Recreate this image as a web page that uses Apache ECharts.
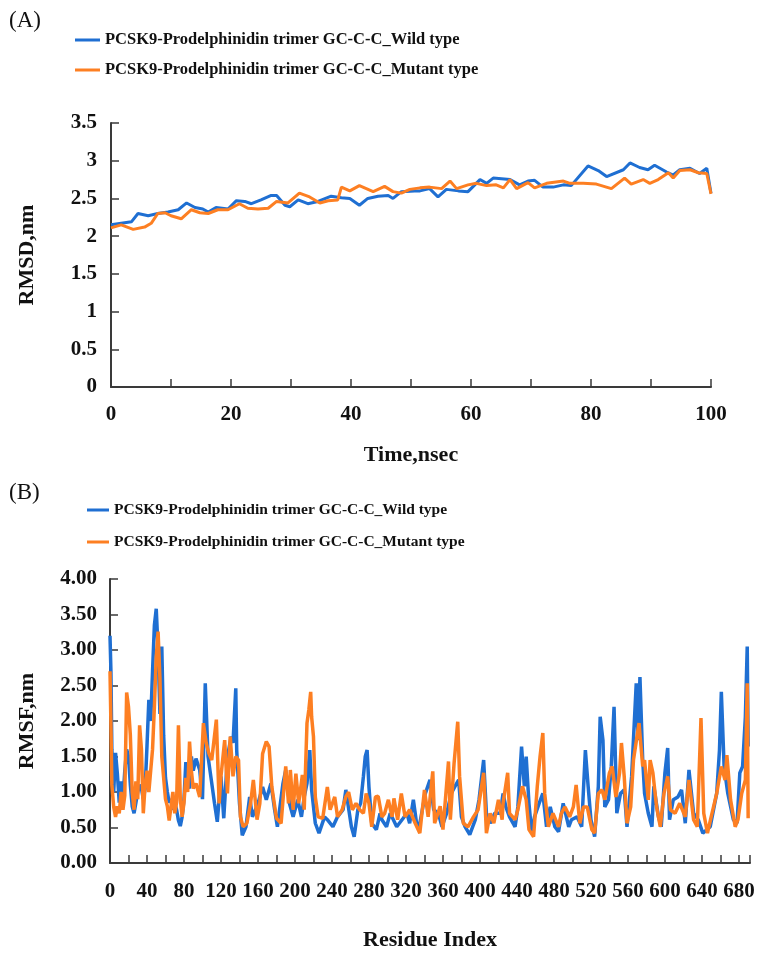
<!DOCTYPE html>
<html>
<head>
<meta charset="utf-8">
<script src="https://cdn.jsdelivr.net/npm/echarts@6/dist/echarts.min.js"></script>
<style>html,body{margin:0;padding:0;background:#fff}#c{width:762px;height:953px}</style>
</head>
<body>
<div id="c"></div>
<script>
// ---- Data ----
const seriesNames = ['PCSK9-Prodelphinidin trimer GC-C-C_Wild type', 'PCSK9-Prodelphinidin trimer GC-C-C_Mutant type'];

// (A) RMSD vs time (ns)
const rmsdWildTime = [0,1.7,3.4,4.5,6.2,7.8,9.5,11.2,12.6,14,15.3,16.2,17.5,19.5,20.9,22.3,23.4,25,26.7,27.6,29,29.8,31.2,32.8,34.5,36.7,38.4,39.8,41.4,42.8,44.5,46.2,47,48.4,50.6,51.5,53.1,54.5,55.9,57.9,59.5,61.5,62.6,63.7,66.5,68.1,69.5,70.6,72,73.7,75.4,76.7,79.5,81.2,82.6,85.4,86.5,88.1,89.5,90.6,92.6,93.7,94.8,96.5,98.1,99.3,100];
const rmsdWild     = [2.15,2.17,2.19,2.30,2.27,2.30,2.32,2.35,2.44,2.38,2.36,2.32,2.38,2.36,2.47,2.46,2.43,2.48,2.54,2.54,2.41,2.39,2.48,2.43,2.46,2.53,2.51,2.50,2.41,2.50,2.53,2.54,2.50,2.59,2.60,2.60,2.63,2.52,2.62,2.60,2.59,2.75,2.70,2.77,2.75,2.68,2.73,2.74,2.65,2.65,2.68,2.67,2.93,2.87,2.79,2.88,2.97,2.91,2.88,2.94,2.85,2.81,2.88,2.90,2.83,2.90,2.57];
const rmsdMutTime  = [0,1.7,3.7,5.6,6.7,7.8,9,10,11.7,13.4,14.8,16.2,17.8,19.5,21.4,22.8,24.5,26.2,27.6,29.5,31.4,33.1,34.8,36.2,37.8,38.4,39.8,41.4,43.7,45.6,47,48.4,49.8,51.5,53.1,55.1,56.5,57.6,59.5,60.9,62.6,64.2,65.4,66.5,67.6,69.5,70.6,72.6,75.4,76.5,78.7,80.9,83.4,85.6,86.7,88.7,89.8,91.2,92.9,93.7,94.8,96.5,97.9,99.3,100];
const rmsdMut      = [2.11,2.15,2.09,2.12,2.17,2.30,2.31,2.27,2.23,2.35,2.31,2.30,2.35,2.35,2.43,2.37,2.36,2.37,2.46,2.44,2.57,2.52,2.44,2.47,2.48,2.65,2.60,2.67,2.59,2.66,2.59,2.57,2.62,2.64,2.65,2.63,2.73,2.63,2.68,2.70,2.67,2.68,2.64,2.75,2.63,2.71,2.64,2.70,2.73,2.70,2.70,2.69,2.63,2.77,2.69,2.75,2.70,2.75,2.84,2.77,2.87,2.88,2.84,2.83,2.56];
const rmsdTicks = [0,20,40,60,80,100];

// (B) RMSF vs residue index
const rmsfWildRes = [0,1,2,4,6,8,10,12,14,16,18,20,22,24,26,28,30,32,34,36,38,40,42,44,46,48,50,52,54,56,58,60,62,64,66,68,70,72,74,76,78,80,82,84,86,88,90,93,97,100,103,106,109,113,116,120,123,127,131,133,136,137,140,143,147,151,154,160,165,169,174,178,181,187,190,194,198,203,207,210,213,216,218,222,226,232,235,241,246,252,255,261,264,268,271,274,276,278,280,283,288,292,294,299,303,310,317,321,324,328,332,335,341,346,350,355,359,364,369,373,377,380,384,389,395,399,404,407,411,416,422,425,428,432,438,441,445,448,450,453,456,459,464,468,472,476,481,485,490,496,499,505,510,514,517,520,524,528,530,533,535,539,542,545,548,552,556,559,564,569,571,573,576,578,582,586,588,593,596,600,603,605,609,614,618,622,626,631,636,641,649,656,659,661,664,668,674,678,681,684,687,689,690];
const rmsfWild    = [3.20,2.70,1.60,1.00,1.55,1.25,0.85,1.15,0.90,1.30,1.60,1.50,1.10,0.80,0.70,0.85,1.00,1.10,1.05,0.90,1.05,1.65,2.30,2.00,2.70,3.35,3.58,3.00,2.10,3.05,1.80,1.20,1.00,0.85,0.90,0.75,0.85,0.75,0.60,0.52,0.65,0.90,1.42,1.10,1.05,1.50,1.30,1.47,1.31,0.90,2.53,1.50,1.22,0.84,0.58,1.22,0.63,1.50,1.78,1.69,2.46,1.59,0.84,0.39,0.51,0.93,0.65,0.84,1.07,0.89,1.12,0.75,0.51,1.12,1.31,0.84,0.65,0.89,0.65,0.93,1.12,1.59,1.03,0.56,0.42,0.65,0.61,0.51,0.65,0.75,1.03,0.51,0.37,0.75,0.84,1.22,1.50,1.59,1.07,0.56,0.47,0.70,0.61,0.51,0.70,0.51,0.63,0.70,0.56,0.89,0.51,0.56,0.98,1.17,0.75,0.70,0.51,0.70,0.98,1.08,1.17,0.65,0.51,0.40,0.61,0.89,1.45,0.70,0.56,0.70,0.70,0.98,0.79,0.65,0.51,0.79,1.64,1.08,1.50,0.84,0.42,0.65,0.84,0.98,0.51,0.79,0.51,0.44,0.84,0.51,0.61,0.65,0.51,1.59,1.08,0.61,0.37,1.08,2.06,1.73,0.79,0.89,1.36,2.20,0.70,0.98,1.03,0.51,1.22,2.53,1.73,2.62,1.45,0.98,0.70,0.51,1.08,0.65,0.51,1.27,1.62,0.61,0.89,0.93,1.03,0.56,1.31,0.70,0.61,0.42,0.51,0.98,1.59,2.41,1.36,0.98,0.61,0.56,1.27,1.36,2.06,3.05,1.64];
const rmsfMutRes  = [0,1,2,4,6,8,10,12,14,16,18,20,22,24,26,28,30,32,34,36,38,40,42,44,46,48,50,52,54,56,58,60,62,64,66,68,70,72,74,76,78,80,82,84,86,88,90,93,97,101,104,107,110,115,118,120,124,127,130,133,136,139,141,144,148,152,155,159,162,165,169,172,175,180,185,190,193,195,198,201,204,208,210,213,215,217,218,220,222,225,230,235,238,243,246,251,255,258,262,266,270,274,277,280,283,287,290,294,297,301,305,307,311,315,319,324,330,335,340,344,349,351,357,360,366,368,372,376,378,382,387,393,398,404,407,411,415,420,424,425,430,432,438,441,446,450,453,458,462,465,468,470,474,479,485,488,492,497,501,504,508,512,516,521,524,528,532,535,540,543,547,551,553,556,559,563,566,569,572,576,578,582,584,587,591,595,599,603,606,611,616,622,626,631,635,639,642,646,650,656,661,665,667,671,676,679,683,687,689,690];
const rmsfMut     = [2.70,1.95,1.10,0.79,0.65,0.80,0.70,1.00,0.75,0.95,2.40,2.20,1.80,1.00,0.75,1.15,0.90,1.94,1.60,0.70,1.10,1.30,1.00,1.30,1.60,2.20,2.90,3.26,2.60,1.50,1.20,0.90,0.80,0.60,0.80,1.00,0.70,0.85,1.94,0.90,0.65,0.85,1.20,1.00,1.71,1.30,1.05,1.12,0.93,1.97,1.69,1.54,1.45,2.02,0.84,1.22,1.73,0.98,1.78,1.22,1.50,1.45,0.65,0.51,0.56,0.84,1.17,0.61,0.84,1.54,1.71,1.64,1.07,0.63,0.56,1.36,0.84,1.31,0.75,1.26,0.84,1.24,0.75,1.97,2.16,2.41,2.06,1.78,0.93,0.65,0.63,1.07,0.75,0.93,0.65,0.75,0.93,1.00,0.75,0.84,0.75,0.70,0.98,0.84,0.51,0.93,0.94,0.65,0.70,0.89,0.65,0.91,0.61,0.98,0.65,0.75,0.56,0.42,1.03,0.65,1.29,0.56,0.80,0.47,1.43,0.61,1.40,1.99,1.22,0.56,0.51,0.65,0.75,1.27,0.42,0.70,0.56,0.89,0.61,0.84,1.27,0.70,0.61,0.75,1.08,0.89,0.47,0.37,1.08,1.50,1.83,0.98,0.51,0.70,0.51,0.70,0.79,0.65,0.79,1.10,0.56,0.79,0.79,0.47,0.42,0.98,1.03,0.89,1.27,1.36,0.93,1.27,1.69,1.22,0.56,0.79,1.45,1.71,1.97,1.36,1.45,0.89,1.45,1.27,0.79,0.51,0.98,1.22,0.75,0.70,0.84,0.65,1.17,0.61,0.51,2.04,0.70,0.42,0.65,0.98,1.36,1.17,1.52,0.89,0.51,0.61,0.98,1.17,2.53,0.63];

// ---- Styling ----
const FONT = 'Liberation Serif, Times New Roman, serif';
const BLUE = '#1f6fd2';
const ORANGE = '#fd7f22';
const AXIS = '#3a3a3a';

function pairs(xs, ys) { return xs.map((x, i) => [x, ys[i]]); }

function axisCommon() {
  return {
    axisLine: { show: true, onZero: false, lineStyle: { color: AXIS, width: 2 } },
    axisTick: { show: true, inside: true, length: 8, lineStyle: { color: AXIS, width: 1.5 } },
    splitLine: { show: false },
    axisLabel: { color: '#111', fontFamily: FONT, fontWeight: 'bold', fontSize: 21 },
    nameTextStyle: { color: '#111', fontFamily: FONT, fontWeight: 'bold', fontSize: 22 }
  };
}

const chart = echarts.init(document.getElementById('c'), null, { renderer: 'canvas' });

const option = {
  backgroundColor: '#fff',
  animation: false,
  title: [
    { text: '(A)', left: 4, top: 4, textStyle: { fontFamily: FONT, fontWeight: 'normal', fontSize: 23, color: '#111' } },
    { text: '(B)', left: 4, top: 476, textStyle: { fontFamily: FONT, fontWeight: 'normal', fontSize: 23, color: '#111' } }
  ],
  legend: [
    {
      left: 75, top: 31, padding: 0, orient: 'vertical', icon: 'rect', itemWidth: 25, itemHeight: 3, itemGap: 12,
      data: seriesNames,
      textStyle: { fontFamily: FONT, fontWeight: 'bold', fontSize: 16.5, lineHeight: 18, color: '#111' }
    },
    {
      left: 87, top: 501, padding: 0, orient: 'vertical', icon: 'rect', itemWidth: 22, itemHeight: 3, itemGap: 14,
      data: seriesNames,
      textStyle: { fontFamily: FONT, fontWeight: 'bold', fontSize: 15.5, lineHeight: 18, color: '#111' }
    }
  ],
  grid: [
    { left: 111, right: 51, top: 123, bottom: 566, containLabel: false },
    { left: 110, right: 12, top: 579, bottom: 90, containLabel: false }
  ],
  xAxis: [
    Object.assign(axisCommon(), {
      gridIndex: 0, type: 'value', min: 0, max: 100, interval: 10,
      name: 'Time,nsec', nameLocation: 'middle', nameGap: 57,
      axisLabel: Object.assign(axisCommon().axisLabel, {
        margin: 17,
        formatter: v => (rmsdTicks.indexOf(v) >= 0 ? String(v) : '')
      })
    }),
    Object.assign(axisCommon(), {
      gridIndex: 1, type: 'value', min: 0, max: 692, interval: 20,
      name: 'Residue Index', nameLocation: 'middle', nameGap: 66,
      axisLabel: Object.assign(axisCommon().axisLabel, {
        margin: 18,
        formatter: v => (v % 40 === 0 && v <= 680 ? String(v) : '')
      })
    })
  ],
  yAxis: [
    Object.assign(axisCommon(), {
      gridIndex: 0, type: 'value', min: 0, max: 3.5, interval: 0.5,
      name: 'RMSD,nm', nameLocation: 'middle', nameGap: 73,
      axisLabel: Object.assign(axisCommon().axisLabel, { margin: 14 })
    }),
    Object.assign(axisCommon(), {
      gridIndex: 1, type: 'value', min: 0, max: 4, interval: 0.5,
      name: 'RMSF,nm', nameLocation: 'middle', nameGap: 72,
      axisLabel: Object.assign(axisCommon().axisLabel, { margin: 13, formatter: v => v.toFixed(2) })
    })
  ],
  series: [
    { name: seriesNames[0], type: 'line', xAxisIndex: 0, yAxisIndex: 0, data: pairs(rmsdWildTime, rmsdWild),
      symbol: 'none', color: BLUE, lineStyle: { color: BLUE, width: 3 } },
    { name: seriesNames[1], type: 'line', xAxisIndex: 0, yAxisIndex: 0, data: pairs(rmsdMutTime, rmsdMut),
      symbol: 'none', color: ORANGE, lineStyle: { color: ORANGE, width: 3 } },
    { name: seriesNames[0], type: 'line', xAxisIndex: 1, yAxisIndex: 1, data: pairs(rmsfWildRes, rmsfWild),
      symbol: 'none', color: BLUE, lineStyle: { color: BLUE, width: 3.5 } },
    { name: seriesNames[1], type: 'line', xAxisIndex: 1, yAxisIndex: 1, data: pairs(rmsfMutRes, rmsfMut),
      symbol: 'none', color: ORANGE, lineStyle: { color: ORANGE, width: 3.5 } }
  ]
};
chart.setOption(option);
</script>
</body>
</html>
